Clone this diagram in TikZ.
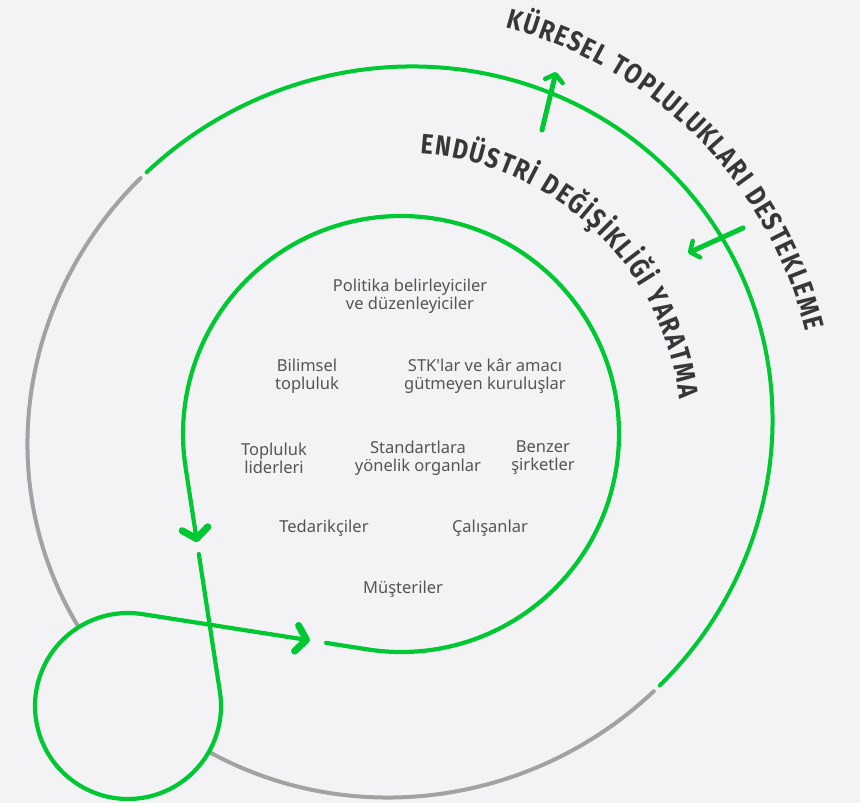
\documentclass[tikz,border=0pt]{standalone}
\usepackage{fontspec}
\setmainfont{Noto Sans}
\newfontfamily\headfont[FakeStretch=0.84]{Fira Sans}
\usetikzlibrary{arrows.meta,calc,decorations.text}

\begin{document}
\begin{tikzpicture}[x=1pt,y=1pt,
  declare function={erad(\t)=100*3.76*3.62/sqrt((3.62*cos(\t-30))^2+(3.76*sin(\t-30))^2);},
  ring/.style={line width=4pt,line join=round,line cap=round},
  loopline/.style={draw=greenColor,line width=4.2pt,line join=round,line cap=round},
  bigtip/.style={-{Straight Barb[length=10pt,width=26pt,line width=7pt,round]}},
  smalltip/.style={-{Straight Barb[length=7pt,width=18pt,line width=4.5pt,round]}},
  lbl/.style={text=textColor,align=center,font=\fontsize{16.5}{18}\selectfont,inner sep=0pt,outer sep=0pt},
  arctext/.style={decorate,decoration={text along path,text align=fit to path,text color=headColor}}]
\definecolor{fillColor}{RGB}{243,243,245}
\definecolor{greenColor}{RGB}{0,200,50}
\definecolor{grayColor}{RGB}{162,162,162}
\definecolor{textColor}{RGB}{85,85,85}
\definecolor{headColor}{RGB}{55,55,55}
\path[use as bounding box,fill=fillColor] (0,0) rectangle (860,803);

\coordinate (outC) at (400,371);
\coordinate (inC) at (401,369);
\coordinate (smC) at (128,97);

\coordinate (inT1) at ($(inC)+(188.7:218)$);
\coordinate (smT1) at ($(smC)+(8.7:93)$);
\coordinate (smT2) at ($(smC)+(81.1:93)$);
\coordinate (inT2) at ($(inC)+(-98.9:218)$);
\coordinate (tipA) at ($(inT1)!0.334!(smT1)$);
\coordinate (restA) at ($(inT1)!0.387!(smT1)$);
\coordinate (tipB) at ($(smT2)!0.745!(inT2)$);
\coordinate (restB) at ($(smT2)!0.817!(inT2)$);

\path[draw=grayColor,ring] plot[domain=-224.4:-45.6,samples=180] ({400+erad(\x)*cos(\x)},{371+erad(\x)*sin(\x)});

\path[draw=greenColor,ring] plot[domain=-44.3:134.3,samples=180] ({400+erad(\x)*cos(\x)},{371+erad(\x)*sin(\x)});

\path[fill=fillColor] (smC) circle[radius=93];

\path[loopline,bigtip] (restA) -- (smT1) arc[start angle=8.7,end angle=-278.9,radius=93] -- (tipB);

\path[loopline,bigtip] (restB) -- (inT2) arc[start angle=-98.9,end angle=188.7,radius=218] -- (tipA);

\coordinate (upS) at (542,673);
\coordinate (upE) at (556,731);
\coordinate (backS) at (743,575);
\coordinate (backE) at (688,550);

\path[draw=greenColor,line width=5pt,line cap=round,smalltip] (upS) -- (upE);

\path[draw=greenColor,line width=5pt,line cap=round,smalltip] (backS) -- (backE);

\path[arctext,decoration={text={|\headfont\bfseries\fontsize{28}{30}\selectfont|KÜRESEL TOPLULUKLARI DESTEKLEME}}] ($(outC)+(75.4:418)$) arc[start angle=75.4,end angle=14,radius=418];

\path[arctext,decoration={text={|\headfont\bfseries\fontsize{28}{30}\selectfont|ENDÜSTRİ DEĞİŞİKLİĞİ YARATMA}}] ($(inC)+(86.1:281)$) arc[start angle=86.1,end angle=7.2,radius=281];

\node[lbl] (policy) at (410,507) {Politika belirleyiciler\\ve düzenleyiciler};

\node[lbl] (science) at (307,427) {Bilimsel\\topluluk};

\node[lbl] (ngo) at (485,427) {STK\textquotesingle lar ve kâr amacı\\gütmeyen kuruluşlar};

\node[lbl] (leaders) at (274,345) {Topluluk\\liderleri};

\node[lbl] (standards) at (418,345) {Standartlara\\yönelik organlar};

\node[lbl] (peers) at (543,345) {Benzer\\şirketler};

\node[lbl] (suppliers) at (324,275) {Tedarikçiler};

\node[lbl] (staff) at (490,275) {Çalışanlar};

\node[lbl] (customers) at (403,214) {Müşteriler};
\end{tikzpicture}
\end{document}
